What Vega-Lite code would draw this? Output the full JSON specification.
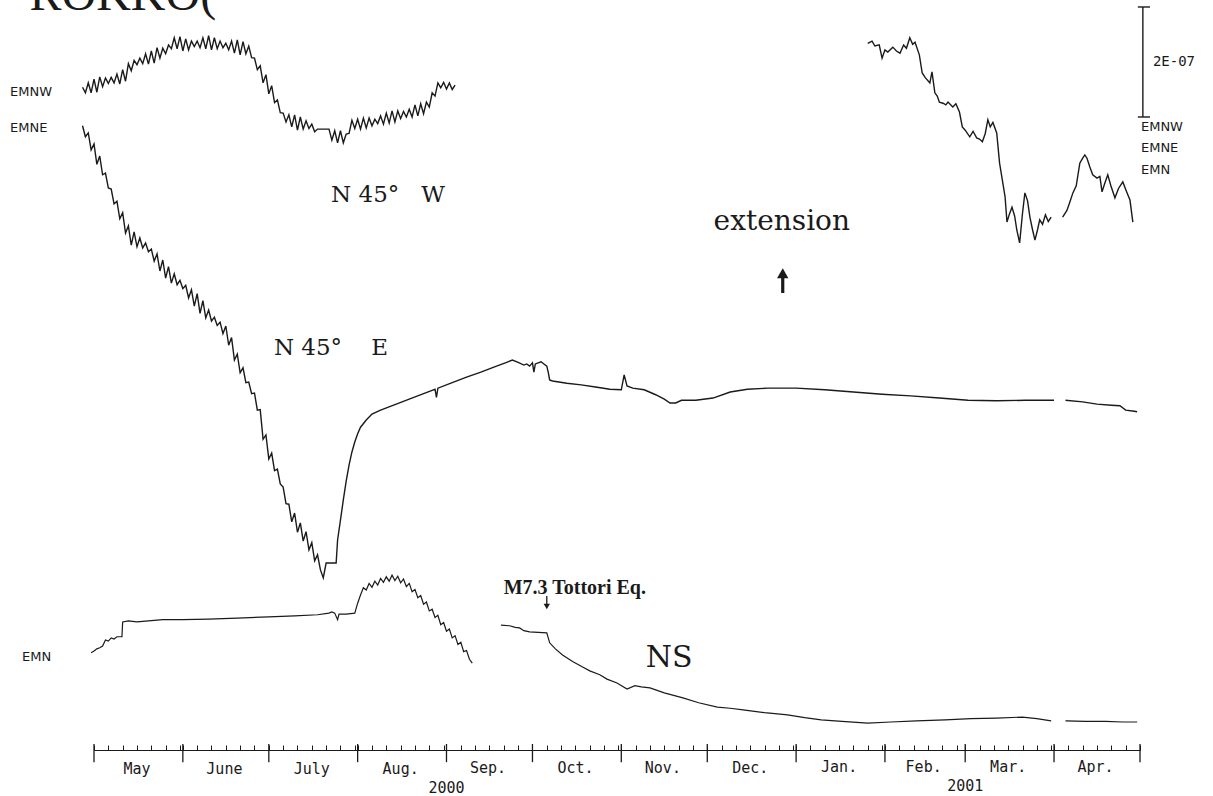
{
  "$schema": "https://vega.github.io/schema/vega-lite/v6.json",
  "autosize": {"type": "none"},
  "width": 1046,
  "height": 750,
  "padding": {"left": 94, "top": 0, "right": 73, "bottom": 46},
  "background": "white",
  "config": {"view": {"stroke": null}},
  "datasets": {
    "emnw": [
      {"seg": 1, "date": "2000-04-27", "strain": 1154}, {"seg": 1, "date": "2000-04-28", "strain": 1144},
      {"seg": 1, "date": "2000-04-29", "strain": 1162}, {"seg": 1, "date": "2000-04-30", "strain": 1144},
      {"seg": 1, "date": "2000-05-01", "strain": 1169}, {"seg": 1, "date": "2000-05-02", "strain": 1145},
      {"seg": 1, "date": "2000-05-03", "strain": 1173}, {"seg": 1, "date": "2000-05-04", "strain": 1155},
      {"seg": 1, "date": "2000-05-05", "strain": 1171}, {"seg": 1, "date": "2000-05-06", "strain": 1161},
      {"seg": 1, "date": "2000-05-07", "strain": 1172}, {"seg": 1, "date": "2000-05-08", "strain": 1162},
      {"seg": 1, "date": "2000-05-09", "strain": 1178}, {"seg": 1, "date": "2000-05-10", "strain": 1160},
      {"seg": 1, "date": "2000-05-11", "strain": 1186}, {"seg": 1, "date": "2000-05-12", "strain": 1165},
      {"seg": 1, "date": "2000-05-13", "strain": 1197}, {"seg": 1, "date": "2000-05-14", "strain": 1184},
      {"seg": 1, "date": "2000-05-15", "strain": 1203}, {"seg": 1, "date": "2000-05-16", "strain": 1195},
      {"seg": 1, "date": "2000-05-17", "strain": 1207}, {"seg": 1, "date": "2000-05-18", "strain": 1197},
      {"seg": 1, "date": "2000-05-19", "strain": 1215}, {"seg": 1, "date": "2000-05-20", "strain": 1196},
      {"seg": 1, "date": "2000-05-21", "strain": 1220}, {"seg": 1, "date": "2000-05-22", "strain": 1198},
      {"seg": 1, "date": "2000-05-23", "strain": 1226}, {"seg": 1, "date": "2000-05-24", "strain": 1207},
      {"seg": 1, "date": "2000-05-25", "strain": 1225}, {"seg": 1, "date": "2000-05-26", "strain": 1215},
      {"seg": 1, "date": "2000-05-27", "strain": 1231}, {"seg": 1, "date": "2000-05-28", "strain": 1224},
      {"seg": 1, "date": "2000-05-29", "strain": 1244}, {"seg": 1, "date": "2000-05-30", "strain": 1224},
      {"seg": 1, "date": "2000-05-31", "strain": 1246}, {"seg": 1, "date": "2000-06-01", "strain": 1220},
      {"seg": 1, "date": "2000-06-02", "strain": 1242}, {"seg": 1, "date": "2000-06-03", "strain": 1222},
      {"seg": 1, "date": "2000-06-04", "strain": 1238}, {"seg": 1, "date": "2000-06-05", "strain": 1228},
      {"seg": 1, "date": "2000-06-06", "strain": 1238}, {"seg": 1, "date": "2000-06-07", "strain": 1226},
      {"seg": 1, "date": "2000-06-08", "strain": 1244}, {"seg": 1, "date": "2000-06-09", "strain": 1224},
      {"seg": 1, "date": "2000-06-10", "strain": 1248}, {"seg": 1, "date": "2000-06-11", "strain": 1222},
      {"seg": 1, "date": "2000-06-12", "strain": 1244}, {"seg": 1, "date": "2000-06-13", "strain": 1224},
      {"seg": 1, "date": "2000-06-14", "strain": 1238}, {"seg": 1, "date": "2000-06-15", "strain": 1226},
      {"seg": 1, "date": "2000-06-16", "strain": 1234}, {"seg": 1, "date": "2000-06-17", "strain": 1222},
      {"seg": 1, "date": "2000-06-18", "strain": 1238}, {"seg": 1, "date": "2000-06-19", "strain": 1216},
      {"seg": 1, "date": "2000-06-20", "strain": 1240}, {"seg": 1, "date": "2000-06-21", "strain": 1213},
      {"seg": 1, "date": "2000-06-22", "strain": 1237}, {"seg": 1, "date": "2000-06-23", "strain": 1215},
      {"seg": 1, "date": "2000-06-24", "strain": 1229}, {"seg": 1, "date": "2000-06-25", "strain": 1208},
      {"seg": 1, "date": "2000-06-26", "strain": 1207}, {"seg": 1, "date": "2000-06-27", "strain": 1186},
      {"seg": 1, "date": "2000-06-28", "strain": 1193}, {"seg": 1, "date": "2000-06-29", "strain": 1162},
      {"seg": 1, "date": "2000-06-30", "strain": 1177}, {"seg": 1, "date": "2000-07-01", "strain": 1142},
      {"seg": 1, "date": "2000-07-02", "strain": 1157}, {"seg": 1, "date": "2000-07-03", "strain": 1126},
      {"seg": 1, "date": "2000-07-04", "strain": 1131}, {"seg": 1, "date": "2000-07-05", "strain": 1108},
      {"seg": 1, "date": "2000-07-06", "strain": 1107}, {"seg": 1, "date": "2000-07-07", "strain": 1091},
      {"seg": 1, "date": "2000-07-08", "strain": 1104}, {"seg": 1, "date": "2000-07-09", "strain": 1082},
      {"seg": 1, "date": "2000-07-10", "strain": 1104}, {"seg": 1, "date": "2000-07-11", "strain": 1076},
      {"seg": 1, "date": "2000-07-12", "strain": 1100}, {"seg": 1, "date": "2000-07-13", "strain": 1078},
      {"seg": 1, "date": "2000-07-14", "strain": 1093}, {"seg": 1, "date": "2000-07-15", "strain": 1079},
      {"seg": 1, "date": "2000-07-16", "strain": 1087}, {"seg": 1, "date": "2000-07-17", "strain": 1073},
      {"seg": 1, "date": "2000-07-18", "strain": 1078}, {"seg": 1, "date": "2000-07-22", "strain": 1078},
      {"seg": 1, "date": "2000-07-23", "strain": 1058}, {"seg": 1, "date": "2000-07-24", "strain": 1075},
      {"seg": 1, "date": "2000-07-25", "strain": 1053}, {"seg": 1, "date": "2000-07-26", "strain": 1075},
      {"seg": 1, "date": "2000-07-27", "strain": 1053}, {"seg": 1, "date": "2000-07-28", "strain": 1069},
      {"seg": 1, "date": "2000-07-29", "strain": 1070}, {"seg": 1, "date": "2000-07-30", "strain": 1094},
      {"seg": 1, "date": "2000-07-31", "strain": 1079}, {"seg": 1, "date": "2000-08-01", "strain": 1096},
      {"seg": 1, "date": "2000-08-02", "strain": 1078}, {"seg": 1, "date": "2000-08-03", "strain": 1098},
      {"seg": 1, "date": "2000-08-04", "strain": 1080}, {"seg": 1, "date": "2000-08-05", "strain": 1098},
      {"seg": 1, "date": "2000-08-06", "strain": 1084}, {"seg": 1, "date": "2000-08-07", "strain": 1096},
      {"seg": 1, "date": "2000-08-08", "strain": 1088}, {"seg": 1, "date": "2000-08-09", "strain": 1102},
      {"seg": 1, "date": "2000-08-10", "strain": 1087}, {"seg": 1, "date": "2000-08-11", "strain": 1107},
      {"seg": 1, "date": "2000-08-12", "strain": 1089}, {"seg": 1, "date": "2000-08-13", "strain": 1111},
      {"seg": 1, "date": "2000-08-14", "strain": 1091}, {"seg": 1, "date": "2000-08-15", "strain": 1111},
      {"seg": 1, "date": "2000-08-16", "strain": 1097}, {"seg": 1, "date": "2000-08-17", "strain": 1110},
      {"seg": 1, "date": "2000-08-18", "strain": 1100}, {"seg": 1, "date": "2000-08-19", "strain": 1114},
      {"seg": 1, "date": "2000-08-20", "strain": 1100}, {"seg": 1, "date": "2000-08-21", "strain": 1122},
      {"seg": 1, "date": "2000-08-22", "strain": 1102}, {"seg": 1, "date": "2000-08-23", "strain": 1124},
      {"seg": 1, "date": "2000-08-24", "strain": 1106}, {"seg": 1, "date": "2000-08-25", "strain": 1127},
      {"seg": 1, "date": "2000-08-26", "strain": 1118}, {"seg": 1, "date": "2000-08-27", "strain": 1144},
      {"seg": 1, "date": "2000-08-28", "strain": 1138}, {"seg": 1, "date": "2000-08-29", "strain": 1162},
      {"seg": 1, "date": "2000-08-30", "strain": 1153}, {"seg": 1, "date": "2000-08-31", "strain": 1163},
      {"seg": 1, "date": "2000-09-01", "strain": 1151}, {"seg": 1, "date": "2000-09-02", "strain": 1162},
      {"seg": 1, "date": "2000-09-03", "strain": 1150}, {"seg": 1, "date": "2000-09-04", "strain": 1158},
      {"seg": 2, "date": "2001-01-26T00:00:00Z", "strain": 1234}, {"seg": 2, "date": "2001-01-27T12:00:00Z", "strain": 1238},
      {"seg": 2, "date": "2001-01-28T12:00:00Z", "strain": 1229}, {"seg": 2, "date": "2001-01-30T00:00:00Z", "strain": 1231},
      {"seg": 2, "date": "2001-01-31T00:00:00Z", "strain": 1207}, {"seg": 2, "date": "2001-02-01T00:00:00Z", "strain": 1222},
      {"seg": 2, "date": "2001-02-02T00:00:00Z", "strain": 1218}, {"seg": 2, "date": "2001-02-03T18:00:00Z", "strain": 1227},
      {"seg": 2, "date": "2001-02-05T00:00:00Z", "strain": 1220}, {"seg": 2, "date": "2001-02-06T06:00:00Z", "strain": 1216},
      {"seg": 2, "date": "2001-02-07T12:00:00Z", "strain": 1231}, {"seg": 2, "date": "2001-02-08T12:00:00Z", "strain": 1225},
      {"seg": 2, "date": "2001-02-09T16:00:00Z", "strain": 1244}, {"seg": 2, "date": "2001-02-10T16:00:00Z", "strain": 1232},
      {"seg": 2, "date": "2001-02-11T12:00:00Z", "strain": 1236}, {"seg": 2, "date": "2001-02-13T00:00:00Z", "strain": 1213},
      {"seg": 2, "date": "2001-02-14T00:00:00Z", "strain": 1180}, {"seg": 2, "date": "2001-02-15T00:00:00Z", "strain": 1172},
      {"seg": 2, "date": "2001-02-16T16:00:00Z", "strain": 1162}, {"seg": 2, "date": "2001-02-17T10:00:00Z", "strain": 1182},
      {"seg": 2, "date": "2001-02-18T10:00:00Z", "strain": 1144}, {"seg": 2, "date": "2001-02-19T06:00:00Z", "strain": 1138},
      {"seg": 2, "date": "2001-02-20T00:00:00Z", "strain": 1127}, {"seg": 2, "date": "2001-02-21T06:00:00Z", "strain": 1125},
      {"seg": 2, "date": "2001-02-22T06:00:00Z", "strain": 1122}, {"seg": 2, "date": "2001-02-23T00:00:00Z", "strain": 1127},
      {"seg": 2, "date": "2001-02-24T16:00:00Z", "strain": 1118}, {"seg": 2, "date": "2001-02-25T18:00:00Z", "strain": 1124},
      {"seg": 2, "date": "2001-02-27T00:00:00Z", "strain": 1109}, {"seg": 2, "date": "2001-02-28T00:00:00Z", "strain": 1082},
      {"seg": 2, "date": "2001-03-01T00:00:00Z", "strain": 1076}, {"seg": 2, "date": "2001-03-02T14:00:00Z", "strain": 1064},
      {"seg": 2, "date": "2001-03-03T18:00:00Z", "strain": 1074}, {"seg": 2, "date": "2001-03-05T00:00:00Z", "strain": 1062},
      {"seg": 2, "date": "2001-03-06T00:00:00Z", "strain": 1060}, {"seg": 2, "date": "2001-03-07T00:00:00Z", "strain": 1055},
      {"seg": 2, "date": "2001-03-08T00:00:00Z", "strain": 1070}, {"seg": 2, "date": "2001-03-08T22:00:00Z", "strain": 1095},
      {"seg": 2, "date": "2001-03-09T18:00:00Z", "strain": 1082}, {"seg": 2, "date": "2001-03-10T16:00:00Z", "strain": 1090},
      {"seg": 2, "date": "2001-03-12T00:00:00Z", "strain": 1071}, {"seg": 2, "date": "2001-03-13T00:00:00Z", "strain": 1016},
      {"seg": 2, "date": "2001-03-14T22:00:00Z", "strain": 955}, {"seg": 2, "date": "2001-03-15T14:00:00Z", "strain": 909},
      {"seg": 2, "date": "2001-03-16T08:00:00Z", "strain": 922}, {"seg": 2, "date": "2001-03-17T08:00:00Z", "strain": 936},
      {"seg": 2, "date": "2001-03-18T06:00:00Z", "strain": 920}, {"seg": 2, "date": "2001-03-19T00:00:00Z", "strain": 895},
      {"seg": 2, "date": "2001-03-20T00:00:00Z", "strain": 871}, {"seg": 2, "date": "2001-03-21T00:00:00Z", "strain": 925},
      {"seg": 2, "date": "2001-03-21T20:00:00Z", "strain": 962}, {"seg": 2, "date": "2001-03-22T18:00:00Z", "strain": 948},
      {"seg": 2, "date": "2001-03-23T14:00:00Z", "strain": 918}, {"seg": 2, "date": "2001-03-24T12:00:00Z", "strain": 895},
      {"seg": 2, "date": "2001-03-25T08:00:00Z", "strain": 876}, {"seg": 2, "date": "2001-03-26T06:00:00Z", "strain": 895},
      {"seg": 2, "date": "2001-03-27T00:00:00Z", "strain": 913}, {"seg": 2, "date": "2001-03-28T00:00:00Z", "strain": 905},
      {"seg": 2, "date": "2001-03-29T00:00:00Z", "strain": 922}, {"seg": 2, "date": "2001-03-30T00:00:00Z", "strain": 910},
      {"seg": 2, "date": "2001-03-31T00:00:00Z", "strain": 918},
      {"seg": 3, "date": "2001-04-04T00:00:00Z", "strain": 918}, {"seg": 3, "date": "2001-04-05T12:00:00Z", "strain": 930},
      {"seg": 3, "date": "2001-04-06T12:00:00Z", "strain": 945}, {"seg": 3, "date": "2001-04-07T14:00:00Z", "strain": 962},
      {"seg": 3, "date": "2001-04-08T18:00:00Z", "strain": 975}, {"seg": 3, "date": "2001-04-10T00:00:00Z", "strain": 1016},
      {"seg": 3, "date": "2001-04-11T00:00:00Z", "strain": 1025}, {"seg": 3, "date": "2001-04-11T18:00:00Z", "strain": 1031},
      {"seg": 3, "date": "2001-04-12T12:00:00Z", "strain": 1025}, {"seg": 3, "date": "2001-04-13T12:00:00Z", "strain": 1009},
      {"seg": 3, "date": "2001-04-14T12:00:00Z", "strain": 995}, {"seg": 3, "date": "2001-04-16T00:00:00Z", "strain": 989},
      {"seg": 3, "date": "2001-04-17T00:00:00Z", "strain": 992}, {"seg": 3, "date": "2001-04-17T18:00:00Z", "strain": 964},
      {"seg": 3, "date": "2001-04-18T18:00:00Z", "strain": 980}, {"seg": 3, "date": "2001-04-19T18:00:00Z", "strain": 995},
      {"seg": 3, "date": "2001-04-20T20:00:00Z", "strain": 975}, {"seg": 3, "date": "2001-04-22T06:00:00Z", "strain": 953},
      {"seg": 3, "date": "2001-04-23T12:00:00Z", "strain": 970}, {"seg": 3, "date": "2001-04-25T00:00:00Z", "strain": 982},
      {"seg": 3, "date": "2001-04-26T06:00:00Z", "strain": 965}, {"seg": 3, "date": "2001-04-27T12:00:00Z", "strain": 949},
      {"seg": 3, "date": "2001-04-28T12:00:00Z", "strain": 909}
    ],
    "emne": [
      {"seg": 1, "date": "2000-04-27", "strain": 1084}, {"seg": 1, "date": "2000-04-28", "strain": 1064},
      {"seg": 1, "date": "2000-04-29", "strain": 1071}, {"seg": 1, "date": "2000-04-30", "strain": 1040},
      {"seg": 1, "date": "2000-05-01", "strain": 1051}, {"seg": 1, "date": "2000-05-02", "strain": 1014},
      {"seg": 1, "date": "2000-05-03", "strain": 1029}, {"seg": 1, "date": "2000-05-04", "strain": 995},
      {"seg": 1, "date": "2000-05-05", "strain": 998}, {"seg": 1, "date": "2000-05-06", "strain": 971},
      {"seg": 1, "date": "2000-05-07", "strain": 969}, {"seg": 1, "date": "2000-05-08", "strain": 942},
      {"seg": 1, "date": "2000-05-09", "strain": 947}, {"seg": 1, "date": "2000-05-10", "strain": 915},
      {"seg": 1, "date": "2000-05-11", "strain": 926}, {"seg": 1, "date": "2000-05-12", "strain": 889},
      {"seg": 1, "date": "2000-05-13", "strain": 902}, {"seg": 1, "date": "2000-05-14", "strain": 867},
      {"seg": 1, "date": "2000-05-15", "strain": 891}, {"seg": 1, "date": "2000-05-16", "strain": 864},
      {"seg": 1, "date": "2000-05-17", "strain": 880}, {"seg": 1, "date": "2000-05-18", "strain": 862},
      {"seg": 1, "date": "2000-05-19", "strain": 871}, {"seg": 1, "date": "2000-05-20", "strain": 855},
      {"seg": 1, "date": "2000-05-21", "strain": 860}, {"seg": 1, "date": "2000-05-22", "strain": 838},
      {"seg": 1, "date": "2000-05-23", "strain": 851}, {"seg": 1, "date": "2000-05-24", "strain": 820},
      {"seg": 1, "date": "2000-05-25", "strain": 840}, {"seg": 1, "date": "2000-05-26", "strain": 807},
      {"seg": 1, "date": "2000-05-27", "strain": 828}, {"seg": 1, "date": "2000-05-28", "strain": 798},
      {"seg": 1, "date": "2000-05-29", "strain": 815}, {"seg": 1, "date": "2000-05-30", "strain": 795},
      {"seg": 1, "date": "2000-05-31", "strain": 803}, {"seg": 1, "date": "2000-06-01", "strain": 788},
      {"seg": 1, "date": "2000-06-02", "strain": 794}, {"seg": 1, "date": "2000-06-03", "strain": 771},
      {"seg": 1, "date": "2000-06-04", "strain": 786}, {"seg": 1, "date": "2000-06-05", "strain": 756},
      {"seg": 1, "date": "2000-06-06", "strain": 779}, {"seg": 1, "date": "2000-06-07", "strain": 743},
      {"seg": 1, "date": "2000-06-08", "strain": 766}, {"seg": 1, "date": "2000-06-09", "strain": 735},
      {"seg": 1, "date": "2000-06-10", "strain": 749}, {"seg": 1, "date": "2000-06-11", "strain": 729},
      {"seg": 1, "date": "2000-06-12", "strain": 736}, {"seg": 1, "date": "2000-06-13", "strain": 721},
      {"seg": 1, "date": "2000-06-14", "strain": 727}, {"seg": 1, "date": "2000-06-15", "strain": 706},
      {"seg": 1, "date": "2000-06-16", "strain": 720}, {"seg": 1, "date": "2000-06-17", "strain": 685},
      {"seg": 1, "date": "2000-06-18", "strain": 699}, {"seg": 1, "date": "2000-06-19", "strain": 658},
      {"seg": 1, "date": "2000-06-20", "strain": 669}, {"seg": 1, "date": "2000-06-21", "strain": 635},
      {"seg": 1, "date": "2000-06-22", "strain": 644}, {"seg": 1, "date": "2000-06-23", "strain": 617},
      {"seg": 1, "date": "2000-06-24", "strain": 618}, {"seg": 1, "date": "2000-06-25", "strain": 597},
      {"seg": 1, "date": "2000-06-26", "strain": 598}, {"seg": 1, "date": "2000-06-27", "strain": 567},
      {"seg": 1, "date": "2000-06-28", "strain": 568}, {"seg": 1, "date": "2000-06-29", "strain": 514},
      {"seg": 1, "date": "2000-06-30", "strain": 522}, {"seg": 1, "date": "2000-07-01", "strain": 478},
      {"seg": 1, "date": "2000-07-02", "strain": 489}, {"seg": 1, "date": "2000-07-03", "strain": 457},
      {"seg": 1, "date": "2000-07-04", "strain": 460}, {"seg": 1, "date": "2000-07-05", "strain": 433},
      {"seg": 1, "date": "2000-07-06", "strain": 427}, {"seg": 1, "date": "2000-07-07", "strain": 397},
      {"seg": 1, "date": "2000-07-08", "strain": 396}, {"seg": 1, "date": "2000-07-09", "strain": 364},
      {"seg": 1, "date": "2000-07-10", "strain": 380}, {"seg": 1, "date": "2000-07-11", "strain": 345},
      {"seg": 1, "date": "2000-07-12", "strain": 362}, {"seg": 1, "date": "2000-07-13", "strain": 329},
      {"seg": 1, "date": "2000-07-14", "strain": 346}, {"seg": 1, "date": "2000-07-15", "strain": 313},
      {"seg": 1, "date": "2000-07-16", "strain": 326}, {"seg": 1, "date": "2000-07-17", "strain": 293},
      {"seg": 1, "date": "2000-07-18", "strain": 304}, {"seg": 1, "date": "2000-07-19", "strain": 277},
      {"seg": 1, "date": "2000-07-20", "strain": 262}, {"seg": 1, "date": "2000-07-21", "strain": 289},
      {"seg": 1, "date": "2000-07-24T12:00:00Z", "strain": 289}, {"seg": 1, "date": "2000-07-25", "strain": 331},
      {"seg": 1, "date": "2000-07-26", "strain": 367}, {"seg": 1, "date": "2000-07-27", "strain": 404},
      {"seg": 1, "date": "2000-07-28", "strain": 438}, {"seg": 1, "date": "2000-07-29", "strain": 467},
      {"seg": 1, "date": "2000-07-30", "strain": 491}, {"seg": 1, "date": "2000-07-31", "strain": 509},
      {"seg": 1, "date": "2000-08-01", "strain": 524}, {"seg": 1, "date": "2000-08-02", "strain": 536},
      {"seg": 1, "date": "2000-08-04", "strain": 549}, {"seg": 1, "date": "2000-08-06", "strain": 560},
      {"seg": 1, "date": "2000-08-09", "strain": 567}, {"seg": 1, "date": "2000-08-14", "strain": 577},
      {"seg": 1, "date": "2000-08-19", "strain": 587}, {"seg": 1, "date": "2000-08-24", "strain": 597},
      {"seg": 1, "date": "2000-08-27", "strain": 603}, {"seg": 1, "date": "2000-08-28", "strain": 605},
      {"seg": 1, "date": "2000-08-28T12:00:00Z", "strain": 590}, {"seg": 1, "date": "2000-08-29", "strain": 607},
      {"seg": 1, "date": "2000-09-03", "strain": 617}, {"seg": 1, "date": "2000-09-08", "strain": 627},
      {"seg": 1, "date": "2000-09-13", "strain": 636}, {"seg": 1, "date": "2000-09-18", "strain": 646},
      {"seg": 1, "date": "2000-09-22", "strain": 654}, {"seg": 1, "date": "2000-09-24", "strain": 658},
      {"seg": 1, "date": "2000-09-26", "strain": 654}, {"seg": 1, "date": "2000-09-28", "strain": 649},
      {"seg": 1, "date": "2000-09-29", "strain": 651}, {"seg": 1, "date": "2000-09-30", "strain": 647},
      {"seg": 1, "date": "2000-10-01", "strain": 653}, {"seg": 1, "date": "2000-10-01T12:00:00Z", "strain": 636},
      {"seg": 1, "date": "2000-10-02", "strain": 651}, {"seg": 1, "date": "2000-10-03", "strain": 653},
      {"seg": 1, "date": "2000-10-04", "strain": 655}, {"seg": 1, "date": "2000-10-05", "strain": 651},
      {"seg": 1, "date": "2000-10-06", "strain": 647}, {"seg": 1, "date": "2000-10-06T12:00:00Z", "strain": 636},
      {"seg": 1, "date": "2000-10-07", "strain": 622}, {"seg": 1, "date": "2000-10-08", "strain": 620},
      {"seg": 1, "date": "2000-10-13", "strain": 616}, {"seg": 1, "date": "2000-10-18", "strain": 613},
      {"seg": 1, "date": "2000-10-23", "strain": 609}, {"seg": 1, "date": "2000-10-28", "strain": 605},
      {"seg": 1, "date": "2000-11-01", "strain": 604}, {"seg": 1, "date": "2000-11-02", "strain": 631},
      {"seg": 1, "date": "2000-11-03", "strain": 611}, {"seg": 1, "date": "2000-11-05", "strain": 607},
      {"seg": 1, "date": "2000-11-09", "strain": 604}, {"seg": 1, "date": "2000-11-13", "strain": 595},
      {"seg": 1, "date": "2000-11-16", "strain": 587}, {"seg": 1, "date": "2000-11-18", "strain": 580},
      {"seg": 1, "date": "2000-11-20", "strain": 580}, {"seg": 1, "date": "2000-11-22", "strain": 585},
      {"seg": 1, "date": "2000-11-27", "strain": 585}, {"seg": 1, "date": "2000-12-03", "strain": 589},
      {"seg": 1, "date": "2000-12-09", "strain": 600}, {"seg": 1, "date": "2000-12-15", "strain": 605},
      {"seg": 1, "date": "2000-12-22", "strain": 607}, {"seg": 1, "date": "2001-01-01", "strain": 607},
      {"seg": 1, "date": "2001-01-11", "strain": 604}, {"seg": 1, "date": "2001-01-21", "strain": 600},
      {"seg": 1, "date": "2001-01-31", "strain": 596}, {"seg": 1, "date": "2001-02-10", "strain": 593},
      {"seg": 1, "date": "2001-02-20", "strain": 589}, {"seg": 1, "date": "2001-03-02", "strain": 585},
      {"seg": 1, "date": "2001-03-12", "strain": 584}, {"seg": 1, "date": "2001-03-22", "strain": 585},
      {"seg": 1, "date": "2001-04-01", "strain": 585},
      {"seg": 2, "date": "2001-04-05", "strain": 585}, {"seg": 2, "date": "2001-04-11", "strain": 582},
      {"seg": 2, "date": "2001-04-16", "strain": 578}, {"seg": 2, "date": "2001-04-21", "strain": 576},
      {"seg": 2, "date": "2001-04-24", "strain": 575}, {"seg": 2, "date": "2001-04-26", "strain": 567},
      {"seg": 2, "date": "2001-04-29", "strain": 565}, {"seg": 2, "date": "2001-04-30", "strain": 564}
    ],
    "emn": [
      {"seg": 1, "date": "2000-04-30", "strain": 126}, {"seg": 1, "date": "2000-05-01", "strain": 129},
      {"seg": 1, "date": "2000-05-02", "strain": 133}, {"seg": 1, "date": "2000-05-03", "strain": 135},
      {"seg": 1, "date": "2000-05-04", "strain": 138}, {"seg": 1, "date": "2000-05-05", "strain": 149},
      {"seg": 1, "date": "2000-05-06", "strain": 147}, {"seg": 1, "date": "2000-05-07", "strain": 153},
      {"seg": 1, "date": "2000-05-08", "strain": 151}, {"seg": 1, "date": "2000-05-09", "strain": 155},
      {"seg": 1, "date": "2000-05-10T18:00:00Z", "strain": 155}, {"seg": 1, "date": "2000-05-11", "strain": 182},
      {"seg": 1, "date": "2000-05-13", "strain": 184}, {"seg": 1, "date": "2000-05-16", "strain": 182},
      {"seg": 1, "date": "2000-05-20", "strain": 184}, {"seg": 1, "date": "2000-05-25", "strain": 186},
      {"seg": 1, "date": "2000-06-01", "strain": 186}, {"seg": 1, "date": "2000-06-10", "strain": 187},
      {"seg": 1, "date": "2000-06-20", "strain": 189}, {"seg": 1, "date": "2000-07-01", "strain": 191},
      {"seg": 1, "date": "2000-07-10", "strain": 193}, {"seg": 1, "date": "2000-07-18", "strain": 195},
      {"seg": 1, "date": "2000-07-22", "strain": 198}, {"seg": 1, "date": "2000-07-23", "strain": 200},
      {"seg": 1, "date": "2000-07-24", "strain": 198}, {"seg": 1, "date": "2000-07-25", "strain": 186},
      {"seg": 1, "date": "2000-07-25T12:00:00Z", "strain": 196}, {"seg": 1, "date": "2000-07-28", "strain": 196},
      {"seg": 1, "date": "2000-07-31", "strain": 198}, {"seg": 1, "date": "2000-08-01", "strain": 216},
      {"seg": 1, "date": "2000-08-02", "strain": 231}, {"seg": 1, "date": "2000-08-03", "strain": 244},
      {"seg": 1, "date": "2000-08-04", "strain": 240}, {"seg": 1, "date": "2000-08-05", "strain": 252},
      {"seg": 1, "date": "2000-08-06", "strain": 245}, {"seg": 1, "date": "2000-08-07", "strain": 256},
      {"seg": 1, "date": "2000-08-08", "strain": 249}, {"seg": 1, "date": "2000-08-09", "strain": 261},
      {"seg": 1, "date": "2000-08-10", "strain": 254}, {"seg": 1, "date": "2000-08-11", "strain": 264},
      {"seg": 1, "date": "2000-08-12", "strain": 256}, {"seg": 1, "date": "2000-08-13", "strain": 267},
      {"seg": 1, "date": "2000-08-14", "strain": 257}, {"seg": 1, "date": "2000-08-15", "strain": 265},
      {"seg": 1, "date": "2000-08-16", "strain": 253}, {"seg": 1, "date": "2000-08-17", "strain": 260},
      {"seg": 1, "date": "2000-08-18", "strain": 246}, {"seg": 1, "date": "2000-08-19", "strain": 252},
      {"seg": 1, "date": "2000-08-20", "strain": 237}, {"seg": 1, "date": "2000-08-21", "strain": 241},
      {"seg": 1, "date": "2000-08-22", "strain": 226}, {"seg": 1, "date": "2000-08-23", "strain": 230},
      {"seg": 1, "date": "2000-08-24", "strain": 214}, {"seg": 1, "date": "2000-08-25", "strain": 218},
      {"seg": 1, "date": "2000-08-26", "strain": 202}, {"seg": 1, "date": "2000-08-27", "strain": 205},
      {"seg": 1, "date": "2000-08-28", "strain": 190}, {"seg": 1, "date": "2000-08-29", "strain": 194},
      {"seg": 1, "date": "2000-08-30", "strain": 177}, {"seg": 1, "date": "2000-08-31", "strain": 181},
      {"seg": 1, "date": "2000-09-01", "strain": 165}, {"seg": 1, "date": "2000-09-02", "strain": 169},
      {"seg": 1, "date": "2000-09-03", "strain": 153}, {"seg": 1, "date": "2000-09-04", "strain": 157},
      {"seg": 1, "date": "2000-09-05", "strain": 141}, {"seg": 1, "date": "2000-09-06", "strain": 145},
      {"seg": 1, "date": "2000-09-07", "strain": 128}, {"seg": 1, "date": "2000-09-08", "strain": 130},
      {"seg": 1, "date": "2000-09-09", "strain": 114}, {"seg": 1, "date": "2000-09-10", "strain": 107},
      {"seg": 2, "date": "2000-09-20", "strain": 176}, {"seg": 2, "date": "2000-09-23", "strain": 175},
      {"seg": 2, "date": "2000-09-25", "strain": 172}, {"seg": 2, "date": "2000-09-26T12:00:00Z", "strain": 171},
      {"seg": 2, "date": "2000-09-28", "strain": 166}, {"seg": 2, "date": "2000-09-30", "strain": 164},
      {"seg": 2, "date": "2000-10-03", "strain": 163}, {"seg": 2, "date": "2000-10-06", "strain": 162},
      {"seg": 2, "date": "2000-10-07", "strain": 144}, {"seg": 2, "date": "2000-10-09", "strain": 133},
      {"seg": 2, "date": "2000-10-11T12:00:00Z", "strain": 122}, {"seg": 2, "date": "2000-10-15", "strain": 110},
      {"seg": 2, "date": "2000-10-18T12:00:00Z", "strain": 100}, {"seg": 2, "date": "2000-10-21", "strain": 93},
      {"seg": 2, "date": "2000-10-24T12:00:00Z", "strain": 86}, {"seg": 2, "date": "2000-10-27", "strain": 78},
      {"seg": 2, "date": "2000-10-30T12:00:00Z", "strain": 71}, {"seg": 2, "date": "2000-11-03", "strain": 60},
      {"seg": 2, "date": "2000-11-05T18:00:00Z", "strain": 66}, {"seg": 2, "date": "2000-11-08", "strain": 64},
      {"seg": 2, "date": "2000-11-11", "strain": 62}, {"seg": 2, "date": "2000-11-16", "strain": 53},
      {"seg": 2, "date": "2000-11-22T12:00:00Z", "strain": 44}, {"seg": 2, "date": "2000-11-28", "strain": 35},
      {"seg": 2, "date": "2000-12-04T12:00:00Z", "strain": 27}, {"seg": 2, "date": "2000-12-09", "strain": 25},
      {"seg": 2, "date": "2000-12-13T12:00:00Z", "strain": 22}, {"seg": 2, "date": "2000-12-21", "strain": 17},
      {"seg": 2, "date": "2000-12-29", "strain": 13}, {"seg": 2, "date": "2001-01-04", "strain": 8},
      {"seg": 2, "date": "2001-01-09T18:00:00Z", "strain": 4}, {"seg": 2, "date": "2001-01-17", "strain": 1},
      {"seg": 2, "date": "2001-01-26", "strain": -2}, {"seg": 2, "date": "2001-02-03", "strain": 0},
      {"seg": 2, "date": "2001-02-12", "strain": 2}, {"seg": 2, "date": "2001-02-22", "strain": 4},
      {"seg": 2, "date": "2001-03-03", "strain": 6}, {"seg": 2, "date": "2001-03-12", "strain": 7},
      {"seg": 2, "date": "2001-03-21", "strain": 9}, {"seg": 2, "date": "2001-03-26", "strain": 6},
      {"seg": 2, "date": "2001-03-31", "strain": 2},
      {"seg": 3, "date": "2001-04-05", "strain": 2}, {"seg": 3, "date": "2001-04-12", "strain": 1},
      {"seg": 3, "date": "2001-04-19", "strain": 1}, {"seg": 3, "date": "2001-04-25", "strain": 0},
      {"seg": 3, "date": "2001-04-30", "strain": 0}
    ],
    "month_ticks": [
      {"start": "2000-05-01", "lo": -73, "hi": -40}, {"start": "2000-06-01", "lo": -73, "hi": -40},
      {"start": "2000-07-01", "lo": -73, "hi": -40}, {"start": "2000-08-01", "lo": -73, "hi": -40},
      {"start": "2000-09-01", "lo": -73, "hi": -40}, {"start": "2000-10-01", "lo": -73, "hi": -40},
      {"start": "2000-11-01", "lo": -73, "hi": -40}, {"start": "2000-12-01", "lo": -73, "hi": -40},
      {"start": "2001-01-01", "lo": -73, "hi": -40}, {"start": "2001-02-01", "lo": -73, "hi": -40},
      {"start": "2001-03-01", "lo": -73, "hi": -40}, {"start": "2001-04-01", "lo": -73, "hi": -40},
      {"start": "2001-05-01", "lo": -73, "hi": -40}
    ],
    "month_labels": [
      {"date": "2000-05-16", "strain": -85, "label": "May"},
      {"date": "2000-06-15T12:00:00Z", "strain": -85, "label": "June"},
      {"date": "2000-07-16", "strain": -85, "label": "July"},
      {"date": "2000-08-16", "strain": -85, "label": "Aug."},
      {"date": "2000-09-15T12:00:00Z", "strain": -84, "label": "Sep."},
      {"date": "2000-10-16", "strain": -84, "label": "Oct."},
      {"date": "2000-11-15T12:00:00Z", "strain": -83, "label": "Nov."},
      {"date": "2000-12-16", "strain": -83, "label": "Dec."},
      {"date": "2001-01-16", "strain": -82, "label": "Jan."},
      {"date": "2001-02-14T12:00:00Z", "strain": -82, "label": "Feb."},
      {"date": "2001-03-16", "strain": -81, "label": "Mar."},
      {"date": "2001-04-15T12:00:00Z", "strain": -81, "label": "Apr."},
      {"date": "2000-09-01", "strain": -120, "label": "2000"},
      {"date": "2001-03-01", "strain": -117, "label": "2001"}
    ]
  },
  "encoding": {
    "x": {"field": "date", "type": "temporal", "title": null,
      "scale": {"type": "utc", "domain": [{"year": 2000, "month": 5, "date": 1, "utc": true}, {"year": 2001, "month": 5, "date": 1, "utc": true}]},
      "axis": {"orient": "top", "offset": -750, "labels": false, "grid": false, "tickCount": {"interval": "day", "step": 5}, "tickSize": 5, "tickColor": "#1a1a1a", "tickWidth": 1, "domainColor": "#1a1a1a", "domainWidth": 1.2}},
    "y": {"field": "strain", "type": "quantitative", "axis": null, "scale": {"domain": [-50.9, 1312.7], "nice": false, "zero": false}}
  },
  "layer": [
    {"data": {"name": "emnw"}, "mark": {"type": "line", "color": "#1a1a1a", "strokeWidth": 1.4}, "encoding": {"detail": {"field": "seg"}}},
    {"data": {"name": "emne"}, "mark": {"type": "line", "color": "#1a1a1a", "strokeWidth": 1.4}, "encoding": {"detail": {"field": "seg"}}},
    {"data": {"name": "emn"}, "mark": {"type": "line", "color": "#1a1a1a", "strokeWidth": 1.2}, "encoding": {"detail": {"field": "seg"}}},
    {"data": {"name": "month_ticks"}, "mark": {"type": "rule", "color": "#1a1a1a", "strokeWidth": 1.3},
      "encoding": {"x": {"field": "start", "type": "temporal"}, "y": {"field": "lo", "type": "quantitative"}, "y2": {"field": "hi"}}},
    {"data": {"name": "month_labels"}, "mark": {"type": "text", "font": "DejaVu Sans Mono", "fontSize": 15, "color": "#1a1a1a", "baseline": "middle", "align": "center"},
      "encoding": {"text": {"field": "label"}}},
    {"data": {"values": [{"date": "2000-04-08T12:00:00Z", "strain": 1294, "label": "ROKKO("}]},
      "mark": {"type": "text", "font": "Liberation Serif", "fontSize": 48, "color": "#1a1a1a", "baseline": "alphabetic", "align": "left"},
      "encoding": {"text": {"field": "label"}}},
    {"data": {"values": [
        {"date": "2000-04-01T17:00:00Z", "strain": 1146, "label": "EMNW"},
        {"date": "2000-04-01T17:00:00Z", "strain": 1080, "label": "EMNE"},
        {"date": "2000-04-05T22:00:00Z", "strain": 118, "label": "EMN"},
        {"date": "2001-05-01T08:00:00Z", "strain": 1082, "label": "EMNW"},
        {"date": "2001-05-01T08:00:00Z", "strain": 1044, "label": "EMNE"},
        {"date": "2001-05-01T08:00:00Z", "strain": 1004, "label": "EMN"}
      ]},
      "mark": {"type": "text", "font": "DejaVu Sans", "fontSize": 13, "color": "#1a1a1a", "baseline": "middle", "align": "left"},
      "encoding": {"text": {"field": "label"}}},
    {"data": {"values": [{"date": "2001-05-05T12:00:00Z", "strain": 1200, "label": "2E-07"}]},
      "mark": {"type": "text", "font": "DejaVu Sans Mono", "fontSize": 14, "color": "#1a1a1a", "baseline": "middle", "align": "left"},
      "encoding": {"text": {"field": "label"}}},
    {"data": {"values": [{"date": "2001-05-02T00:00:00Z", "lo": 1100, "hi": 1300}]},
      "mark": {"type": "rule", "color": "#1a1a1a", "strokeWidth": 1.4},
      "encoding": {"y": {"field": "lo", "type": "quantitative"}, "y2": {"field": "hi"}}},
    {"data": {"values": [{"from": "2001-04-30T06:00:00Z", "to": "2001-05-04T12:00:00Z", "at": 1100}, {"from": "2001-04-30T06:00:00Z", "to": "2001-05-04T12:00:00Z", "at": 1300}]},
      "mark": {"type": "rule", "color": "#1a1a1a", "strokeWidth": 1.4},
      "encoding": {"x": {"field": "from", "type": "temporal"}, "x2": {"field": "to"}, "y": {"field": "at", "type": "quantitative"}}},
    {"data": {"values": [
        {"date": "2000-08-11T14:00:00Z", "strain": 958, "label": "N 45°\u00a0\u00a0\u00a0W"},
        {"date": "2000-07-22T17:00:00Z", "strain": 680, "label": "N 45°\u00a0\u00a0\u00a0\u00a0E"}
      ]},
      "mark": {"type": "text", "font": "DejaVu Serif", "fontSize": 23, "color": "#1a1a1a", "baseline": "middle", "align": "center"},
      "encoding": {"text": {"field": "label"}}},
    {"data": {"values": [{"date": "2000-12-27T00:00:00Z", "strain": 909, "label": "extension"}]},
      "mark": {"type": "text", "font": "DejaVu Serif", "fontSize": 28, "color": "#1a1a1a", "baseline": "middle", "align": "center"},
      "encoding": {"text": {"field": "label"}}},
    {"data": {"values": [{"date": "2000-11-17T16:00:00Z", "strain": 116, "label": "NS"}]},
      "mark": {"type": "text", "font": "DejaVu Serif", "fontSize": 30, "color": "#1a1a1a", "baseline": "middle", "align": "center"},
      "encoding": {"text": {"field": "label"}}},
    {"data": {"values": [{"date": "2000-10-15T19:00:00Z", "strain": 244, "label": "M7.3 Tottori Eq."}]},
      "mark": {"type": "text", "font": "Liberation Serif", "fontSize": 20, "fontWeight": "bold", "color": "#1a1a1a", "baseline": "middle", "align": "center"},
      "encoding": {"text": {"field": "label"}}},
    {"data": {"values": [{"date": "2000-12-27T08:00:00Z", "lo": 780, "hi": 812}]},
      "mark": {"type": "rule", "color": "#1a1a1a", "strokeWidth": 3.2},
      "encoding": {"y": {"field": "lo", "type": "quantitative"}, "y2": {"field": "hi"}}},
    {"data": {"values": [{"date": "2000-12-27T08:00:00Z", "strain": 816}]},
      "mark": {"type": "point", "shape": "triangle-up", "filled": true, "color": "#1a1a1a", "size": 130, "opacity": 1}},
    {"data": {"values": [{"date": "2000-10-06T00:00:00Z", "lo": 210, "hi": 229}]},
      "mark": {"type": "rule", "color": "#1a1a1a", "strokeWidth": 1.3},
      "encoding": {"y": {"field": "lo", "type": "quantitative"}, "y2": {"field": "hi"}}},
    {"data": {"values": [{"date": "2000-10-06T00:00:00Z", "strain": 210}]},
      "mark": {"type": "point", "shape": "triangle-down", "filled": true, "color": "#1a1a1a", "size": 40, "opacity": 1}}
  ]
}
